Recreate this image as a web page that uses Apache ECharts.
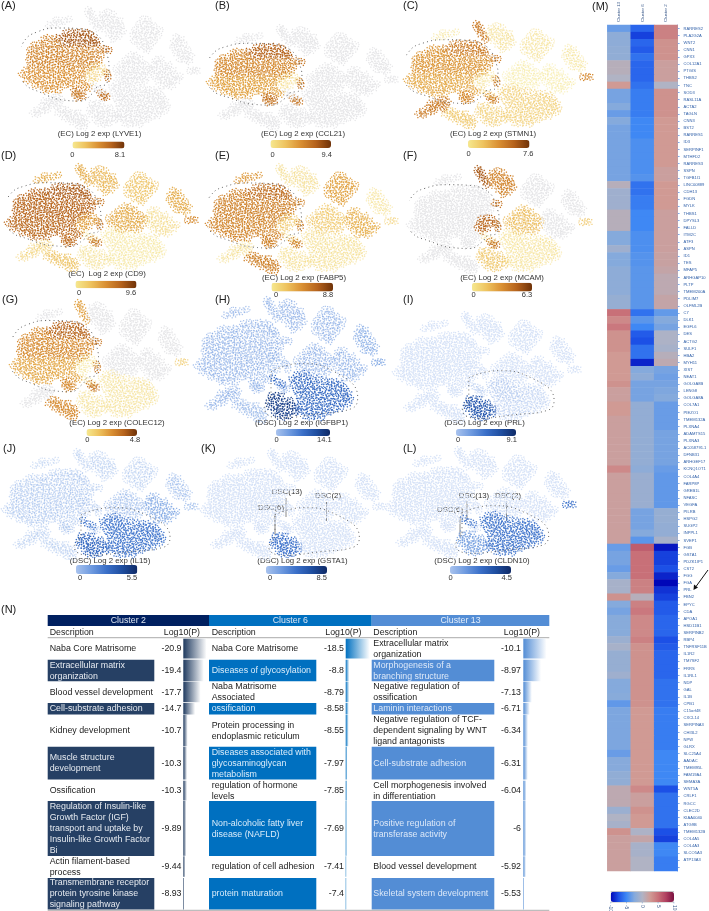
<!DOCTYPE html>
<html><head><meta charset="utf-8">
<style>html,body{margin:0;padding:0;background:#fff}#c{width:709px;height:911px}</style>
<script src="https://cdn.jsdelivr.net/npm/echarts@6/dist/echarts.min.js"></script>
</head><body><div id="c"></div>
<script>
// ---------- t-SNE map: estimated cell positions per cluster (flat x,y pairs) ----------
const crest=[66,33,71,32,76,33,81,32,86,33,90,34,58,38,63,37,68,38,73,39,78,37,83,38,88,39,93,38,96,41,62,43,67,44,72,43,77,44,82,43,87,44,92,43,97,44];
const upper=[44,39,49,38,54,39,34,45,39,44,44,44,49,45,54,44,58,44,30,50,35,49,40,51,45,49,50,50,55,48,60,50,65,49,70,50,75,48,80,50,85,49,90,51,95,49,100,50,30,55,35,54,40,56,45,54,50,55,55,53,60,55,65,54,70,56,75,53,80,55,85,54,90,56,95,54,101,55,29,60,34,59,39,61,44,59,49,60,54,58,59,60,64,59,69,61,74,58,79,60,84,59,89,61,94,59,99,60,31,65,36,64,41,66,46,64,51,65,56,63,61,65,66,64,71,66,76,63,81,65,86,64,91,66,96,64];
const lower=[26,70,31,69,36,71,41,69,46,70,51,68,56,70,61,69,66,71,71,68,76,70,81,69,86,71,22,74,27,75,32,74,37,76,42,74,47,75,52,73,57,75,62,74,67,76,72,73,77,75,82,74,27,80,32,79,37,81,42,79,47,80,52,78,57,80,62,79,67,81,72,78,77,80,82,79,35,85,40,84,45,86,50,84,55,85,60,83,65,85,70,84,75,86,44,89,49,90,54,89,59,90,82,84,86,86,89,88];
const dot=[74,91,78,90,82,92,75,95,79,95,83,96,78,98];
const small=[100,93,104,95,107,97,103,97,105,49,109,50,107,73,108,78];
const pale=[92,67,97,66,102,67,90,72,95,71,100,72,105,72,88,77,93,77,98,78,92,81];
const top1=[49,25,54,24,59,23,64,21,69,19,56,20];
const top2=[88,10,91,12,89,15,93,17,92,21,96,24,97,28];
const b3=[103,14,108,12,113,14,100,19,105,18,110,19,115,20,120,21,101,24,106,23,111,25,116,24,121,26,104,29,109,28,114,30,119,29,123,31,109,34,114,35,119,36,113,39];
const b4=[143,19,148,20,139,24,144,25,149,24,154,26,135,30,140,29,145,31,150,30,155,31,160,30,133,35,138,35,143,36,148,35,153,36,158,36,134,41,139,40,144,42,149,41,154,41,140,46,145,47,150,46,147,50];
const b5=[176,37,181,39,174,42,179,43,184,44,173,47,178,48,183,49,188,50,176,53,181,54,186,55,191,56,180,59,185,60,189,61];
const b6=[190,71,194,70,197,71];
const mid1=[131,55,136,56,126,59,131,60,136,61,141,60,121,64,126,65,131,64,136,66,141,65,146,65,116,69,121,70,126,69,131,71,136,70,141,71,146,70,150,69,118,75,123,74,128,76,133,75,138,76,143,75,148,76,125,80,130,81,135,80,140,81,145,81];
const mid2=[156,60,161,59,154,65,159,64,164,66,169,65,153,70,158,71,163,70,168,71,173,70,155,76,160,75,165,76,170,77,175,75,180,76,158,81,163,80,168,82,173,81,178,80,162,86,167,85,172,86];
const dscL=[92,104,97,103,102,104,90,109,95,108,100,110,105,109,110,108,91,114,96,113,101,115,106,114,111,113,115,114,95,119,100,118,105,120,110,119,115,119,99,123,104,124,109,123];
const dscM=[116,83,122,82,127,84,112,87,117,88,122,87,127,89,132,88,137,87,94,86,98,90,103,92,113,93,119,92,124,94,129,93,134,94,139,93,116,98,121,97,126,99,131,98,136,99,141,98,118,103,123,102,128,104,133,103,138,104,143,103];
const dscR=[143,89,148,90,153,90,158,92,146,95,151,94,156,96,161,95,146,100,151,99,156,101,161,100,165,100,148,105,153,104,158,106,163,105,167,106,120,108,125,109,130,108,135,109,140,108,145,110,150,109,155,111,160,110,165,111,118,113,123,114,128,113,133,114,138,113,143,115,148,114,153,116,158,115,118,118,123,119,128,118,133,119,138,118,143,120,148,119,125,123,130,124,135,123,140,124];
const strip=[52,98,57,97,61,99,44,101,49,102,54,101,59,103,42,106,47,106,52,105,57,107,37,110,42,111,47,110,33,113,38,114];
const low=[62,109,67,110,58,113,63,114,68,114,73,113,78,113,65,118,70,118,75,118,80,117,84,118,72,122,77,122,82,122,86,123,79,126,84,127];
const clusters=[crest,upper,lower,dot,small,pale,top1,top2,b3,b4,b5,b6,mid1,mid2,dscL,dscM,dscR,strip,low];

// ---------- estimated mean expression per cluster, same order as clusters (-1 = not expressed) ----------
const lyve1 =[6.5,4.5,4,5,5.5,1.5,-1,-1,-1,-1,-1,-1,-1,-1,-1,-1,-1,-1,-1];
const ccl21 =[7,5,3.8,6,6,1,-1,-1,-1,-1,-1,-1,-1,-1,-1,-1,-1,-1,-1];
const stmn1 =[4.5,3.5,2.8,4,4.5,0.6,0.5,4.5,0.7,0.6,0.5,4,0.2,0.2,1.4,1.4,1.4,4.5,1.8];
const cd9   =[7.5,7,6.8,6.5,6,4,3.5,3.5,3,2.5,3.5,5,3.5,1.2,0.8,0.6,0.6,1.5,2.5];
const fabp5 =[6,5,4.8,5,5,2,4,1,1,3.5,0.7,1.5,2,3,0.9,0.9,0.9,0.8,5];
const mcam  =[-1,-1,-1,-1,4,4.5,-1,5,3.5,-1,-1,1.5,1.8,-1,1.5,0.5,0.5,-1,-1];
const colec12=[3.5,2.5,1.8,2.5,3,0.3,-1,2,-1,-1,-1,1,-1,-1,0.4,0.4,0.4,-1,2.5];
const igfbp1=[2.4,2.4,2.4,2.4,2.4,2,2.4,2.4,2.4,2.4,3,3.5,2.4,2.4,12,7.5,7.5,2.4,2];
const prl   =[-1,-1,-1,-1,-1,-1,-1,-1,-1,-1,-1,-1,-1,-1,6,0.6,0.2,-1,-1];
const il15  =[0.4,0.4,0.4,0.4,0.4,0.3,0.2,0.2,0.2,0.2,0.6,0.8,0.6,1.2,3,2.4,2.4,0.2,0.2];
const gsta1 =[-1,-1,-1,-1,-1,-1,-1,-1,-1,-1,-1,-1,-1,-1,4,-1,-1,-1,-1];
const cldn10=[-1,-1,-1,-1,-1,-1,-1,-1,-1,-1,-1,2,-1,-1,1.2,2,2,-1,-1];

// ---------- outlines (dashed cluster boundaries) ----------
const ecOutline=[[97,35],[83,29],[60,28],[37,32],[23,43],[17,63],[23,82],[42,93],[63,100],[80,101],[93,93],[97,87],[107,83],[109,67],[108,58],[103,42],[97,35]];
const dscOutline=[[92,80],[119,72],[152,80],[174,105],[168,116],[136,121],[100,125],[86,116],[92,100],[92,80]];

// ---------- colour-bar maxima ----------
const tsneGenes=['LYVE1','CCL21','STMN1','CD9','FABP5','MCAM','COLEC12','IGFBP1','PRL','IL15','GSTA1','CLDN10'];
const tsneMax=[8.1,9.4,7.6,9.6,8.8,6.3,4.8,14.1,9.1,5.5,8.5,4.5];
const tsneExpr=[lyve1,ccl21,stmn1,cd9,fabp5,mcam,colec12,igfbp1,prl,il15,gsta1,cldn10];

// ---------- heat map ----------
const genes=['RARRES2','PLA2G2A','WNT2','CNN1','GPX3','COL12A1','PTGIS','THBS2','TNC','SOD3','RASL11A','ACTA2','TAGLN','CNN3','BST2','RARRES1','ID3','SERPINF1','MTHFD2','RARRES3','SSPN','TGFB1I1','LINC00889','CDH13','FGDN','MYLK','THBS1','DPYSL3','FALLD','ITM2C','ATF3','ASPN','ID1','TES','MFAP5','ARHGAP10','PLTP','TMEM200A','PDLIM7','OLFML2B','C7','DLK1','EGFL6','DES','ACTG2','SULF1','HBA2','MYH11','XIST','NEAT1','GOLGA8B','LENG8','GOLGA8A','COL7A1','PIEZO1','TMEM132A','PLXNA4','ADAMTS15','PLXNA3','AC058791.1','DFNB31','ARHGEF17','KCNQ1OT1','COL4A4','FARP8P','GREB1L','NFASC','VEGFA','PILRB','HSPG2','SUGP2','INPPL1','SVEP1','FGB','GSTA1','PDZK1IP1','CST2','FGG','FGA','PRL','FBN2','EPYC','CDA','APOA1','HSD11B1','SERPINB2','RBP4','TNFRSF11B','IL1R2','TM7SF2','FRRS','IL1RL1','NDP','GAL','IL1B','CPB1','C15orf48','CXCL14','SERPINA3','CHI3L2','NPW','GLRX','SLC25A4','AADAC','TMEM95L','FAM19A4','SEMA3A','WNT5A','CRLF1','RGCC','CLEC2D','KIAA0040','ATG9B','TMEM132B','COL4A5','COL4A3','SLCO5A3','ATP13A3',' '];
const heatClusters=['Cluster 13','Cluster 6','Cluster 2'];
const c13=[-3.5,-2,-2,-1.8,-1.8,0.5,0.5,0,2.5,-3,-3,-2.5,-3.5,-2.5,-3,-3,-3,-3,-3,-3,-3,-3,0.5,-1,-1,-1,0.5,0.5,0.5,-2.5,-2.5,-1,-2.5,-2.5,-2,-2,-2,-2,-1.5,-1.5,5,3.5,4.5,3,3,3,2.5,2.5,2.5,2.5,3,2,2,2.5,2.5,2,2,2,2,2,2,2,3.5,2,2,2,2,2,2,2,2,2,2,-3.5,-3,-3,-3.5,-2.5,-0.5,-0.5,3,-2.5,-3,-2.3,-2.3,-2.3,-1.2,-0.5,-1.5,-1.5,-1.5,-1,-2.5,-2.5,-2.3,-3.8,-2.8,-2.8,-2.8,-2.8,-2.8,-2.8,-3.5,-2.4,-2.4,-1.8,-1.8,1,1,1,-1.2,0,-0.5,3,2,2,2,2,2];
const c6=[-6.5,-8,-6.5,-7,-6,-6.5,-6.5,-6.5,-6,-5.5,-5.5,-5.5,-5.5,-5,-5,-5,-4.5,-4.5,-4.5,-4.5,-4.5,-4.2,-6,-6,-5.5,-5.5,-5,-5,-5,-4.5,-4.5,-4.5,-4.2,-4.2,-4,-4,-4,-4,-4,-4,-6,-4,-5,-7,-7.5,-6,-6,-9,-2.5,-2,-3,-3,-3,-1.7,-1.7,-1.7,-1.7,-1.7,-1.7,-1.7,-1.7,-1.7,-2,-1.3,-1.3,-1.3,-1.3,-1.3,-3,-3,-3,-2.5,-4,6,5,5,5,5,4,4,0.5,4,4.5,3.5,3.5,3.5,4,3,3,3,3,3,3,3,3,3,2.5,2.5,2.5,2.5,2.5,2.5,2.5,2.5,2.5,2.5,2.5,3.5,2,2,3,2.5,2.5,-0.2,1.5,-0.5,-0.5,0,0];
const c2=[4,4,3,3,3,2,2,2,0,3,3,3,3,2.5,2.5,2.5,2.5,2.5,2.5,2.5,2,2,2.5,2.5,2.5,2.5,2,2,2,2,2,2,1.8,1.8,1.5,1,1,1,1.5,1.5,-3.7,-2.5,-3,-0.2,-0.2,-0.5,0.5,1,-3,-3.3,-3,-2.7,-2.5,-3.5,-3.5,-3.5,-3.5,-3,-3,-3,-3,-3,-3.5,-3.8,-3.8,-3.8,-3.8,-3.8,-1.5,-1.5,-1.7,-1.7,-0.5,-9.5,-8,-8,-7.5,-9,-10,-8.5,-8,-7,-7,-6.5,-6.5,-6.5,-7.5,-7,-6.5,-6.5,-6.5,-6.5,-6,-6,-6,-6,-5.5,-5.5,-5.5,-5.5,-5.5,-5.5,-5,-5,-5,-5,-5,-7.5,-6,-6,-6,-6,-6,-7.5,-8,-5,-5,-5.5,-5.5];
const heatTicks=['-10','-5','0','5','10'];

// ---------- enrichment table ----------
const tableTitles=['Cluster 2','Cluster 6','Cluster 13'];
const c2Terms=['Naba Core Matrisome','Extracellular matrix\norganization','Blood vessel development','Cell-substrate adhesion','Kidney development','Muscle structure\ndevelopment','Ossification','Regulation of Insulin-like\nGrowth Factor (IGF)\ntransport and uptake by\nInsulin-like Growth Factor\nBi','Actin filament-based\nprocess','Transmembrane receptor\nprotein tyrosine kinase\nsignaling pathway'];
const c2Log=[-20.9,-19.4,-17.7,-14.7,-10.7,-10.3,-10.3,-9.89,-9.44,-8.93];
const c6Terms=['Naba Core Matrisome','Diseases of glycosylation','Naba Matrisome\nAssociated','ossification','Protein processing in\nendoplasmic reticulum','Diseases associated with\nglycosaminoglycan\nmetabolism','regulation of hormone\nlevels','Non-alcoholic fatty liver\ndisease (NAFLD)','regulation of cell adhesion','protein maturation'];
const c6Log=[-18.5,-8.8,-8.79,-8.58,-8.55,-7.97,-7.85,-7.69,-7.41,-7.4];
const c13Terms=['Extracellular matrix\norganization','Morphogenesis of a\nbranching structure','Negative regulation of\nossification','Laminin interactions','Negative regulation of TCF-\ndependent signaling by WNT\nligand antagonists','Cell-substrate adhesion','Cell morphogenesis involved\nin differentiation','Positive regulation of\ntransferase activity','Blood vessel development','Skeletal system development'];
const c13Log=[-10.1,-8.97,-7.13,-6.71,-6.34,-6.31,-6.04,-6,-5.92,-5.53];

// ---------- layout ----------
const FONT='"Liberation Sans",Arial,sans-serif';
const X0=22,X1=197,Y0=10,Y1=128;
const glyphTurns=[0,97,203,41,288,151,334,72,119,256,18,183,63,225,310];
// letter, kind, map box [left,right,top,bottom], caption [cx,y], bar [x0,x1,y0,y1], letter [x,y], tick labels [x of 0, x of max, y]
const panels=[
 {l:'(A)',t:'EC', box:[22,197,10,128],cap:[99.5,134],bar:[72.5,124.5,141.5,148.5],let:[1,6],tk:[72.3,120,155],gap:' '},
 {l:'(B)',t:'EC', box:[210,395,28,128],cap:[303,134],bar:[270.5,331,140,148],let:[215,6],tk:[272.7,326.7,155],gap:' '},
 {l:'(C)',t:'EC', box:[407,590,24,127],cap:[493,134],bar:[468,529.5,140,148],let:[403,6],tk:[468.7,528.3,154],gap:' '},
 {l:'(D)',t:'EC', box:[8,195,167,270],cap:[107,274],bar:[75.5,136.5,280.7,288.3],let:[1,156],tk:[79,131,293.3],gap:'  '},
 {l:'(E)',t:'EC', box:[209,395,167,272],cap:[304,277.5],bar:[271.5,333,282.7,291.5],let:[215,156],tk:[276,328,295],gap:' '},
 {l:'(F)',t:'EC', box:[410,589,169,272],cap:[502,277.5],bar:[472,532,282.7,291.5],let:[403,156],tk:[473.7,527,295],gap:' '},
 {l:'(G)',t:'EC', box:[13,185,303,418],cap:[117,423],bar:[86.5,137,429,436],let:[2,300],tk:[87.3,135,440],gap:' '},
 {l:'(H)',t:'DSC',box:[197,382,300,421],cap:[301.5,423],bar:[276,330,429,436],let:[215,300],tk:[276.7,324.3,440],gap:' '},
 {l:'(I)',t:'DSC',box:[396,578,315,421],cap:[484.5,423],bar:[456,516,429,436],let:[403,300],tk:[458,511.7,440],gap:' '},
 {l:'(J)',t:'DSC',box:[5,195,452,558],cap:[110,560.7],bar:[76,137.3,565,574],let:[3,449],tk:[80,132,577.7],gap:' '},
 {l:'(K)',t:'DSC',box:[203,383,452,558],cap:[302.5,561],bar:[266,327,566,574],let:[201,449],tk:[270,321.7,577.7],gap:' '},
 {l:'(L)',t:'DSC',box:[388,573,450,556],cap:[482,561],bar:[450,511,566,574],let:[403,449],tk:[450.7,506.7,577.7],gap:' '}
];
const orange=['#f6e88f','#eec25e','#d98f33','#b5621c','#6f3208'];
const blue=['#a9c3ee','#6f9be0','#3a6fc8','#1f4ea0','#0f2a66'];
const speckle='path://M0 1h2.2v2.2h-2.2zM5 0h2.2v2.2h-2.2zM9.8 2h2.2v2.2h-2.2zM2 5h2.2v2.2h-2.2zM7 5h2.2v2.2h-2.2zM9.8 7.5h2.2v2.2h-2.2zM0 9h2.2v2.2h-2.2zM4 9.8h2.2v2.2h-2.2zM7.5 9.8h1.8v1.8h-1.8zM3.2 2.5h1v1h-1z';

const grid=[],xAxis=[],yAxis=[],series=[],visualMap=[],graphic=[];
function txt(s,x,y,o){graphic.push({type:'text',silent:true,x:x,y:y,rotation:(o&&o.rot)||0,style:Object.assign({text:s,font:'7.8px '+FONT,fill:'#333',align:'left',verticalAlign:'middle'},o&&o.style)});}
function rect(x,y,w,h,fill){graphic.push({type:'rect',silent:true,shape:{x:x,y:y,width:w,height:h},style:{fill:fill},z:-1});}
function line(x1,y1,x2,y2,c,w){graphic.push({type:'line',silent:true,shape:{x1:x1,y1:y1,x2:x2,y2:y2},style:{stroke:c,lineWidth:w}});}
function addAxes(left,top,w,h,xa,ya){
  grid.push({left:left,top:top,width:w,height:h,containLabel:false,outerBoundsMode:'none'});
  const i=grid.length-1;
  xAxis.push(Object.assign({gridIndex:i,type:'value',show:false,scale:false,splitLine:{show:false}},xa));
  yAxis.push(Object.assign({gridIndex:i,type:'value',show:false,scale:false,splitLine:{show:false}},ya));
  return i;
}
panels.forEach((p,k)=>{
  const b=p.box, i=addAxes(b[0],b[2],b[1]-b[0],b[3]-b[2],{min:X0,max:X1},{min:Y0,max:Y1,inverse:true});
  const isEC=p.t==='EC';
  const data=[];
  clusters.forEach((c,ci)=>{
    const v=tsneExpr[k][ci];
    // weakly expressing clusters are only sparsely coloured in the figure: draw them fainter
    const op=v<0?1:Math.min(1,0.42+1.5*v/tsneMax[k]);
    for(let j=0;j<c.length;j+=2)data.push({value:[c[j],c[j+1],v],itemStyle:{opacity:op}});
  });
  const si=series.length;
  series.push({type:'scatter',xAxisIndex:i,yAxisIndex:i,data:data,symbol:speckle,symbolSize:7,symbolRotate:(v,pr)=>glyphTurns[pr.dataIndex%glyphTurns.length],silent:true,animation:false,progressive:0,clip:false,encode:{x:0,y:1}});
  series.push({type:'line',xAxisIndex:i,yAxisIndex:i,data:isEC?ecOutline:dscOutline,smooth:0.5,showSymbol:false,silent:true,animation:false,clip:false,lineStyle:{color:'#666',width:1,type:[1,3.2]},itemStyle:{color:'#666'}});
  visualMap.push({type:'continuous',seriesIndex:si,dimension:2,min:0,max:tsneMax[k],unboundedRange:false,orient:'horizontal',calculable:false,realtime:false,hoverLink:false,
    left:p.bar[0],top:p.bar[2],itemWidth:p.bar[3]-p.bar[2],itemHeight:p.bar[1]-p.bar[0],padding:0,text:null,showLabel:false,borderWidth:0,
    inRange:{color:isEC?orange:blue},outOfRange:{color:isEC?'#e6e6e8':'#d6e2f7'}});
  txt(p.l,p.let[0],p.let[1],{style:{font:'11px '+FONT,fill:'#222'}});
  txt('('+p.t+')'+p.gap+'Log 2 exp ('+tsneGenes[k]+')',p.cap[0],p.cap[1],{style:{align:'center'}});
  txt('0',p.tk[0],p.tk[2],{style:{align:'center',font:'7.5px '+FONT}});
  txt(String(tsneMax[k]),p.tk[1],p.tk[2],{style:{align:'center',font:'7.5px '+FONT}});
});
// DSC annotations on panels K and L
[[287,492,286,498,517,'DSC(13)'],[328,496,326.5,502,521,'DSC(2)'],[271,508,275,513,533,'DSC(6)'],[474,496,467,501,520,'DSC(13)'],[508,496,506.5,501,521,'DSC(2)'],[450,510,460,517,536,'DSC(6)']].forEach(a=>{
  txt(a[5],a[0],a[1],{style:{align:'center'}});line(a[2],a[3],a[2],a[4],'#888',1);
});
// heat map
const hi=addAxes(607.3,25,70.3,846,{},{});
xAxis[hi]={gridIndex:hi,type:'category',position:'top',data:heatClusters,axisLine:{show:false},axisTick:{show:false},splitLine:{show:false},
  axisLabel:{rotate:-90,fontSize:4.4,color:'#3d5c8c',margin:3,interval:0,fontFamily:FONT}};
yAxis[hi]={gridIndex:hi,type:'category',position:'right',inverse:true,data:genes,axisLine:{show:true,lineStyle:{color:'#7fa8e8',width:1}},axisTick:{show:true,length:2,alignWithLabel:true,lineStyle:{color:'#7fa8e8'},interval:0},splitLine:{show:false},
  axisLabel:{fontSize:4.1,color:'#2f5fa8',margin:6,interval:0,fontFamily:FONT}};
const heatData=[];
genes.forEach((g,r)=>{heatData.push([0,r,c13[r]],[1,r,c6[r]],[2,r,c2[r]]);});
const heatSeries=series.length;
series.push({type:'heatmap',xAxisIndex:hi,yAxisIndex:hi,data:heatData,silent:true,animation:false,progressive:0,itemStyle:{borderWidth:0}});
visualMap.push({type:'continuous',seriesIndex:heatSeries,dimension:2,min:-10,max:10,orient:'horizontal',calculable:false,realtime:false,hoverLink:false,
  left:610.7,top:891.7,itemWidth:10.3,itemHeight:63.3,padding:0,text:null,showLabel:false,
  inRange:{color:['#0006b8','#1c50e6','#3f88f4','#85aadc','#b0b3c4','#d09a94','#c87078','#b04060','#7a1040']}});
heatTicks.forEach((t,i)=>{const x=610.7+i*15.8;line(x,902,x,903.5,'#7fa8e8',.6);txt(t,x,905,{rot:-Math.PI/2,style:{font:'4.8px '+FONT,fill:'#3d5c8c',align:'left'}});});
line(610.7,891.7,674,891.7,'#555',.4);line(610.7,902,674,902,'#555',.4);
// PRL arrow
line(708,570,696,586.5,'#111',1);
graphic.push({type:'polygon',silent:true,shape:{points:[[693.5,590],[694,584.5],[698,587.5]]},style:{fill:'#111'}});
txt('(M)',592,7,{style:{font:'11px '+FONT,fill:'#222'}});
// table
txt('(N)',1,610,{style:{font:'11px '+FONT,fill:'#222'}});
const rowEdges=[638.7,659.7,681.7,703,715,746.7,780.7,801,856.3,878,910];
const rowBottoms=[659,681.7,702.7,715,746.7,780,801,856.3,877.3,910];
const tableCols=[
 {x0:47.7,x1:209,fillEnd:154.3,head:'#002060',fill:'#264064',bar:'#1f3a5f',textX:49.7,valX:181.5,hdrX:200,barX:183.3,barW:23.3,min:-20.9,max:-8.3,terms:c2Terms,logs:c2Log,ink:'#e6eaf0'},
 {x0:209,x1:371.7,fillEnd:316.3,head:'#0070c0',fill:'#0070c0',bar:'#0070c0',textX:211.7,valX:344,hdrX:361.5,barX:345.7,barW:24,min:-18.5,max:-7.1,terms:c6Terms,logs:c6Log,ink:'#d9ecfa'},
 {x0:371.7,x1:549.3,fillEnd:494.3,head:'#538dd5',fill:'#538dd5',bar:'#538dd5',textX:373.3,valX:521,hdrX:540,barX:523.3,barW:23.3,min:-10.1,max:-5.39,terms:c13Terms,logs:c13Log,ink:'#dce8f8'}
];
tableCols.forEach((c,ci)=>{
  rect(c.x0,615,c.x1-c.x0,11,c.head);
  txt(tableTitles[ci],(c.x0+c.x1)/2,620.7,{style:{align:'center',font:'8.8px '+FONT,fill:ci==2?'#e4eefb':'#dde6f2'}});
  txt('Description',c.textX,632.6,{style:{font:'8.8px '+FONT,fill:'#222'}});
  txt('Log10(P)',c.hdrX,632.6,{style:{align:'right',font:'8.8px '+FONT,fill:'#222'}});
  c.terms.forEach((t,r)=>{
    const top=rowEdges[r], bot=rowBottoms[r], mid=(top+bot)/2, filled=r%2===1;
    if(filled)rect(c.x0,top,c.fillEnd-c.x0,bot-top-.4,c.fill);
    txt(t,c.textX,mid,{style:{font:'8.85px '+FONT,lineHeight:11,fill:filled?c.ink:'#222'}});
    txt(String(c.logs[r]),c.valX,mid,{style:{align:'right',font:'8.8px '+FONT,fill:'#222'}});
  });
  const bi=addAxes(c.barX,0,c.barW,911,{min:c.min,max:c.max,inverse:true},{min:0,max:911,inverse:true});
  const baseline=c.max;
  series.push({type:'custom',xAxisIndex:bi,yAxisIndex:bi,silent:true,animation:false,clip:false,
    data:c.logs.map((v,r)=>[v,r]),encode:{x:0},
    renderItem:(params,api)=>{
      const v=api.value(0),r=api.value(1);
      const a=api.coord([baseline,rowEdges[r]]),b=api.coord([v,rowBottoms[r]]);
      return {type:'rect',shape:{x:a[0],y:a[1],width:Math.max(1,b[0]-a[0]),height:b[1]-a[1]-.5},
        style:{fill:new echarts.graphic.LinearGradient(0,0,1,0,[{offset:0,color:c.bar},{offset:1,color:'#ffffff'}])}};
    }});
});
line(47.7,637.6,549.3,637.6,'#bbb',1.4);
line(47.7,910.3,549.3,910.3,'#888',.7);

const chart=echarts.init(document.getElementById('c'),null,{renderer:'canvas'});
chart.setOption({backgroundColor:'#fff',animation:false,grid,xAxis,yAxis,series,visualMap,graphic:{elements:graphic},tooltip:{show:false}});
</script></body></html>
